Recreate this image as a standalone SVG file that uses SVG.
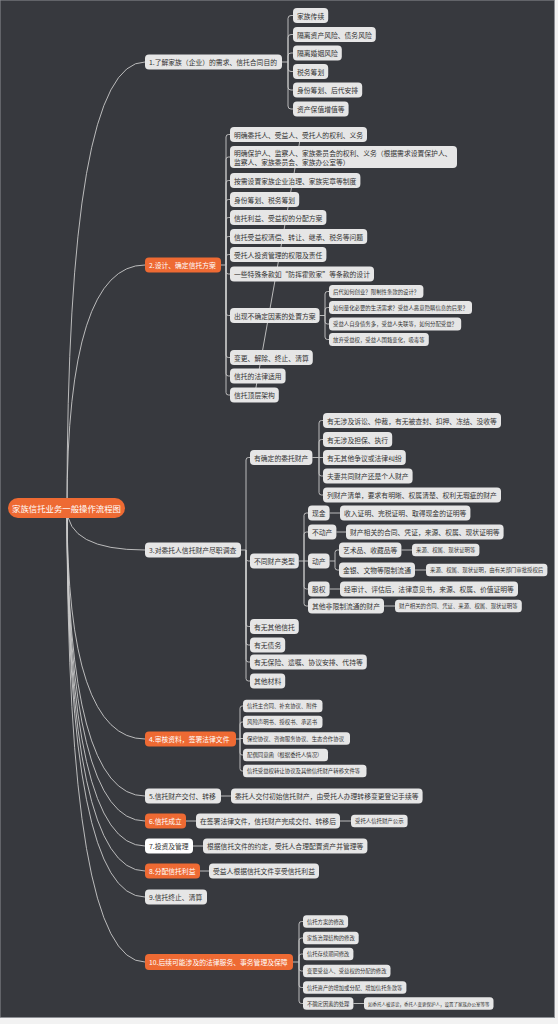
<svg xmlns="http://www.w3.org/2000/svg" width="558" height="1024" viewBox="0 0 558 1024">
<style>
text{font-family:"Noto Sans CJK SC","Noto Sans",sans-serif;dominant-baseline:central;fill:#333}
.g{fill:#e6e6e6}
.o{fill:#ee6a33}
.w{fill:#ffffff}
.tw{fill:#ffffff}
.f1{font-size:6.8px}
.f2{font-size:5.4px}
.f3{font-size:5.3px}
.c{fill:none;stroke:#c9c9c9;stroke-width:0.9}
</style>
<rect x="0" y="0" width="558" height="1024" fill="#f2f2f2"/>
<rect x="0" y="0" width="554.5" height="1017.5" fill="#37393e" stroke="#8d8f94" stroke-width="1"/>
<g id="connectors">
<path class="c" d="M67 508Q67 62 145 62M67 508Q67 265 145 265M67 508Q67 550 145 550M67 508Q67 739 145 739M67 508Q67 796 145 796M67 508Q67 821 145 821M67 508Q67 846 145 846M67 508Q67 871 145 871M67 508Q67 897 145 897M67 508Q67 962 145 962"/>
<path class="c" d="M282 62H288M288 62V18.5Q288 15.5 291 15.5H293M288 62V37.5Q288 34.5 291 34.5H293M288 62V56Q288 53 291 53H293M288 62V68.5Q288 71.5 291 71.5H293M288 62V87Q288 90 291 90H293M288 62V106Q288 109 291 109H293"/>
<path class="c" d="M221 265H226M226 265V137Q226 134.5 228.5 134.5H230M226 265V159.5Q226 157 228.5 157H230M226 265V183Q226 180.5 228.5 180.5H230M226 265V202Q226 199.5 228.5 199.5H230M226 265V220Q226 217.5 228.5 217.5H230M226 265V239Q226 236.5 228.5 236.5H230M226 265V257Q226 254.5 228.5 254.5H230M226 265V271.5Q226 274 228.5 274H230M226 265V313Q226 315.5 228.5 315.5H230M226 265V355Q226 357.5 228.5 357.5H230M226 265V373.5Q226 376 228.5 376H230M226 265V392.5Q226 395 228.5 395H230"/>
<path class="c" d="M300.5 137L255 393" stroke="#a9aaad"/>
<path class="c" d="M319.6 315.5H325M325 315.5V294Q325 291.5 327.5 291.5H329M325 315.5V310Q325 307.5 327.5 307.5H329M325 315.5V321.5Q325 324 327.5 324H329M325 315.5V337Q325 339.5 327.5 339.5H329"/>
<path class="c" d="M241 550H246M246 550V460Q246 457.5 248.5 457.5H250M246 550V558.5Q246 561 248.5 561H250M246 550V624Q246 626.5 248.5 626.5H250M246 550V642.5Q246 645 248.5 645H250M246 550V659.5Q246 662 248.5 662H250M246 550V678.5Q246 681 248.5 681H250"/>
<path class="c" d="M312.4 457.5H319M319 457.5V423Q319 420.5 321.5 420.5H323M319 457.5V442Q319 439.5 321.5 439.5H323M319 457.5H323M319 457.5V473.5Q319 476 321.5 476H323M319 457.5V492.5Q319 495 321.5 495H323"/>
<path class="c" d="M298.8 561H304M304 561V515.5Q304 513 306.5 513H308M304 561V534.5Q304 532 306.5 532H308M304 561H308M304 561V586.5Q304 589 306.5 589H308M304 561V603.5Q304 606 306.5 606H308"/>
<path class="c" d="M329.6 513H340M336.4 532H346M329.6 561H335M335 561V552.5Q335 550 337.5 550H339M335 561V567.5Q335 570 337.5 570H339M401.4 550H412M415 570H426M329.6 589H340M384 606H395"/>
<path class="c" d="M236 739H240M240 739V708.5Q240 706 242 706H243M240 739V724.5Q240 722 242 722H243M240 739V738.5H243M240 739V752.5Q240 755 242 755H243M240 739V768.5Q240 771 242 771H243"/>
<path class="c" d="M221 796H231M186 821H196M340 821H351M193 846H203M200 871H209"/>
<path class="c" d="M293 962H299M299 962V924Q299 921.5 301.5 921.5H303M299 962V940.5Q299 938 301.5 938H303M299 962V956.5Q299 954 301.5 954H303M299 962V968.5Q299 971 301.5 971H303M299 962V985Q299 987.5 301.5 987.5H303M299 962V1001Q299 1003.5 301.5 1003.5H303M353.4 1003.5H364"/>
</g>
<g id="root"><rect class="o" x="8" y="498" width="117" height="20" rx="10"/><text class="tw" x="66.5" y="508" text-anchor="middle" font-size="8.4">家族信托业务一般操作流程图</text></g>
<g id="n1"><rect class="g" x="145" y="54.5" width="137" height="15" rx="4"/><text class="f1" x="149" y="62">1.了解家族（企业）的需求、信托合同目的</text></g>
<g id="n1a"><rect class="g" x="293" y="8" width="35.2" height="15" rx="4"/><text class="f1" x="297" y="15.5">家族传续</text></g>
<g id="n1b"><rect class="g" x="293" y="27" width="82.8" height="15" rx="4"/><text class="f1" x="297" y="34.5">隔离资产风险、债务风险</text></g>
<g id="n1c"><rect class="g" x="293" y="45.5" width="48.8" height="15" rx="4"/><text class="f1" x="297" y="53">隔离婚姻风险</text></g>
<g id="n1d"><rect class="g" x="293" y="64" width="35.2" height="15" rx="4"/><text class="f1" x="297" y="71.5">税务筹划</text></g>
<g id="n1e"><rect class="g" x="293" y="82.5" width="69.2" height="15" rx="4"/><text class="f1" x="297" y="90">身份筹划、后代安排</text></g>
<g id="n1f"><rect class="g" x="293" y="101.5" width="55.6" height="15" rx="4"/><text class="f1" x="297" y="109">资产保值增值等</text></g>
<g id="n2"><rect class="o" x="145" y="257.5" width="76" height="15" rx="4"/><text class="f1 tw" x="149" y="265">2.设计、确定信托方案</text></g>
<g id="n2a"><rect class="g" x="230" y="127" width="137" height="15" rx="4"/><text class="f1" x="234" y="134.5">明确委托人、受益人、受托人的权利、义务</text></g>
<g id="n2b"><rect class="g" x="230" y="146" width="227" height="22" rx="4"/><text class="f1" x="234" y="152.5">明确保护人、监察人、家族委员会的权利、义务（根据需求设置保护人、</text><text class="f1" x="234" y="162">监察人、家族委员会、家族办公室等）</text></g>
<g id="n2c"><rect class="g" x="230" y="173" width="130.4" height="15" rx="4"/><text class="f1" x="234" y="180.5">按需设置家族企业治理、家族宪章等制度</text></g>
<g id="n2d"><rect class="g" x="230" y="192" width="69.2" height="15" rx="4"/><text class="f1" x="234" y="199.5">身份筹划、税务筹划</text></g>
<g id="n2e"><rect class="g" x="230" y="210" width="96.4" height="15" rx="4"/><text class="f1" x="234" y="217.5">信托利益、受益权的分配方案</text></g>
<g id="n2f"><rect class="g" x="230" y="229" width="137.2" height="15" rx="4"/><text class="f1" x="234" y="236.5">信托受益权清偿、转让、继承、税务等问题</text></g>
<g id="n2g"><rect class="g" x="230" y="247" width="96.4" height="15" rx="4"/><text class="f1" x="234" y="254.5">受托人投资管理的权限及责任</text></g>
<g id="n2h"><rect class="g" x="230" y="266.5" width="144" height="15" rx="4"/><text class="f1" x="234" y="274">一些特殊条款如“防挥霍败家”等条款的设计</text></g>
<g id="n2i"><rect class="g" x="230" y="308" width="89.6" height="15" rx="4"/><text class="f1" x="234" y="315.5">出现不确定因素的处置方案</text></g>
<g id="n2i1"><rect class="g" x="329" y="285" width="94.4" height="13" rx="3.5"/><text class="f2" x="333" y="291.5">后代如何创业？限制性条款的设计？</text></g>
<g id="n2i2"><rect class="g" x="329" y="301" width="143" height="13" rx="3.5"/><text class="f2" x="333" y="307.5">如何量化必要的生活需求？受益人恶意隐瞒信息的后果？</text></g>
<g id="n2i3"><rect class="g" x="329" y="317.5" width="132.2" height="13" rx="3.5"/><text class="f2" x="333" y="324">受益人自身债务多，受益人失联等，如何分配受益？</text></g>
<g id="n2i4"><rect class="g" x="329" y="333" width="99.8" height="13" rx="3.5"/><text class="f2" x="333" y="339.5">放弃受益权，受益人国籍变化，吸毒等</text></g>
<g id="n2j"><rect class="g" x="230" y="350" width="82.8" height="15" rx="4"/><text class="f1" x="234" y="357.5">变更、解除、终止、清算</text></g>
<g id="n2k"><rect class="g" x="230" y="368.5" width="55.6" height="15" rx="4"/><text class="f1" x="234" y="376">信托的法律适用</text></g>
<g id="n2l"><rect class="g" x="230" y="387.5" width="48.8" height="15" rx="4"/><text class="f1" x="234" y="395">信托顶层架构</text></g>
<g id="n3"><rect class="g" x="145" y="542.5" width="96" height="15" rx="4"/><text class="f1" x="149" y="550">3.对委托人信托财产尽职调查</text></g>
<g id="n3a"><rect class="g" x="250" y="450" width="62.4" height="15" rx="4"/><text class="f1" x="254" y="457.5">有确定的委托财产</text></g>
<g id="n3a1"><rect class="g" x="323" y="413" width="178" height="15" rx="4"/><text class="f1" x="327" y="420.5">有无涉及诉讼、仲裁，有无被查封、扣押、冻结、没收等</text></g>
<g id="n3a2"><rect class="g" x="323" y="432" width="69.2" height="15" rx="4"/><text class="f1" x="327" y="439.5">有无涉及担保、执行</text></g>
<g id="n3a3"><rect class="g" x="323" y="450" width="82.8" height="15" rx="4"/><text class="f1" x="327" y="457.5">有无其他争议或法律纠纷</text></g>
<g id="n3a4"><rect class="g" x="323" y="468.5" width="89.6" height="15" rx="4"/><text class="f1" x="327" y="476">夫妻共同财产还是个人财产</text></g>
<g id="n3a5"><rect class="g" x="323" y="487.5" width="178" height="15" rx="4"/><text class="f1" x="327" y="495">列财产清单，要求有明晰、权属清楚、权利无瑕疵的财产</text></g>
<g id="n3b"><rect class="g" x="250" y="553.5" width="48.8" height="15" rx="4"/><text class="f1" x="254" y="561">不同财产类型</text></g>
<g id="n3b1"><rect class="g" x="308" y="505.5" width="21.6" height="15" rx="4"/><text class="f1" x="312" y="513">现金</text></g>
<g id="n3b1a"><rect class="g" x="340" y="505.5" width="130.4" height="15" rx="4"/><text class="f1" x="344" y="513">收入证明、完税证明、取得现金的证明等</text></g>
<g id="n3b2"><rect class="g" x="308" y="524.5" width="28.4" height="15" rx="4"/><text class="f1" x="312" y="532">不动产</text></g>
<g id="n3b2a"><rect class="g" x="346" y="524.5" width="157.6" height="15" rx="4"/><text class="f1" x="350" y="532">财产相关的合同、凭证，来源、权属、现状证明等</text></g>
<g id="n3b3"><rect class="g" x="308" y="553.5" width="21.6" height="15" rx="4"/><text class="f1" x="312" y="561">动产</text></g>
<g id="n3b3a"><rect class="g" x="339" y="542.5" width="62.4" height="15" rx="4"/><text class="f1" x="343" y="550">艺术品、收藏品等</text></g>
<g id="n3b3a1"><rect class="g" x="412" y="543.75" width="67.4" height="12.5" rx="3.5"/><text class="f2" x="416" y="550">来源、权属、现状证明等</text></g>
<g id="n3b3b"><rect class="g" x="339" y="562.5" width="76" height="15" rx="4"/><text class="f1" x="343" y="570">金银、文物等限制流通</text></g>
<g id="n3b3b1"><rect class="g" x="426" y="563.75" width="121.4" height="12.5" rx="3.5"/><text class="f2" x="430" y="570">来源、权属、现状证明，由有关部门审批授权后</text></g>
<g id="n3b4"><rect class="g" x="308" y="581.5" width="21.6" height="15" rx="4"/><text class="f1" x="312" y="589">股权</text></g>
<g id="n3b4a"><rect class="g" x="340" y="581.5" width="178" height="15" rx="4"/><text class="f1" x="344" y="589">经审计、评估后，法律意见书，来源、权属、价值证明等</text></g>
<g id="n3b5"><rect class="g" x="308" y="598.5" width="76" height="15" rx="4"/><text class="f1" x="312" y="606">其他非限制流通的财产</text></g>
<g id="n3b5a"><rect class="g" x="395" y="599.75" width="126.8" height="12.5" rx="3.5"/><text class="f2" x="399" y="606">财产相关的合同、凭证、来源、权属、现状证明等</text></g>
<g id="n3c"><rect class="g" x="250" y="619" width="48.8" height="15" rx="4"/><text class="f1" x="254" y="626.5">有无其他信托</text></g>
<g id="n3d"><rect class="g" x="250" y="637.5" width="35.2" height="15" rx="4"/><text class="f1" x="254" y="645">有无债务</text></g>
<g id="n3e"><rect class="g" x="250" y="654.5" width="116.8" height="15" rx="4"/><text class="f1" x="254" y="662">有无保险、遗嘱、协议安排、代持等</text></g>
<g id="n3f"><rect class="g" x="250" y="673.5" width="35.2" height="15" rx="4"/><text class="f1" x="254" y="681">其他材料</text></g>
<g id="n4"><rect class="o" x="145" y="731.5" width="91" height="15" rx="4"/><text class="f1 tw" x="149" y="739">4.审核资料，签署法律文件</text></g>
<g id="n4a"><rect class="g" x="243" y="699.75" width="79.5" height="12.5" rx="3.5"/><text class="f2" x="247" y="706">信托主合同、补充协议、附件</text></g>
<g id="n4b"><rect class="g" x="243" y="715.75" width="79.5" height="12.5" rx="3.5"/><text class="f2" x="247" y="722">风险声明书、授权书、承诺书</text></g>
<g id="n4c"><rect class="g" x="243" y="732.25" width="107" height="12.5" rx="3.5"/><text class="f2" x="247" y="738.5">保密协议、咨询服务协议、生态合作协议</text></g>
<g id="n4d"><rect class="g" x="243" y="748.75" width="85" height="12.5" rx="3.5"/><text class="f2" x="247" y="755">配偶同意函（根据委托人情况）</text></g>
<g id="n4e"><rect class="g" x="243" y="764.75" width="123.5" height="12.5" rx="3.5"/><text class="f2" x="247" y="771">信托受益权转让协议及其他信托财产转移文件等</text></g>
<g id="n5"><rect class="g" x="145" y="788.5" width="76" height="15" rx="4"/><text class="f1" x="149" y="796">5.信托财产交付、转移</text></g>
<g id="n5a"><rect class="g" x="231" y="788.5" width="191.6" height="15" rx="4"/><text class="f1" x="235" y="796">委托人交付初始信托财产，由受托人办理转移变更登记手续等</text></g>
<g id="n6"><rect class="o" x="145" y="813.5" width="41" height="15" rx="4"/><text class="f1 tw" x="149" y="821">6.信托成立</text></g>
<g id="n6a"><rect class="g" x="196" y="813.5" width="144" height="15" rx="4"/><text class="f1" x="200" y="821">在签署法律文件，信托财产完成交付、转移后</text></g>
<g id="n6a1"><rect class="g" x="351" y="814.75" width="56.6" height="12.5" rx="3.5"/><text class="f2" x="355" y="821">受托人信托财产公示</text></g>
<g id="n7"><rect class="w" x="145" y="838.5" width="48" height="15" rx="4"/><text class="f1" x="149" y="846">7.投资及管理</text></g>
<g id="n7a"><rect class="g" x="203" y="838.5" width="164.4" height="15" rx="4"/><text class="f1" x="207" y="846">根据信托文件的约定，受托人合理配置资产并管理等</text></g>
<g id="n8"><rect class="o" x="145" y="863.5" width="55" height="15" rx="4"/><text class="f1 tw" x="149" y="871">8.分配信托利益</text></g>
<g id="n8a"><rect class="g" x="209" y="863.5" width="110" height="15" rx="4"/><text class="f1" x="213" y="871">受益人根据信托文件享受信托利益</text></g>
<g id="n9"><rect class="g" x="145" y="889.5" width="62" height="15" rx="4"/><text class="f1" x="149" y="897">9.信托终止、清算</text></g>
<g id="n10"><rect class="o" x="145" y="954" width="148" height="16" rx="4"/><text class="f1 tw" x="149" y="962">10.后续可能涉及的法律服务、事务管理及保障</text></g>
<g id="n10a"><rect class="g" x="303" y="915.25" width="45.1" height="12.5" rx="3.5"/><text class="f3" x="307" y="921.5">信托方案的修改</text></g>
<g id="n10b"><rect class="g" x="303" y="931.75" width="55.7" height="12.5" rx="3.5"/><text class="f3" x="307" y="938">家族治理结构的修改</text></g>
<g id="n10c"><rect class="g" x="303" y="947.75" width="50.4" height="12.5" rx="3.5"/><text class="f3" x="307" y="954">信托存续期间修改</text></g>
<g id="n10d"><rect class="g" x="303" y="964.75" width="87.5" height="12.5" rx="3.5"/><text class="f3" x="307" y="971">变更受益人、受益权的分配的修改</text></g>
<g id="n10e"><rect class="g" x="303" y="981.25" width="103.4" height="12.5" rx="3.5"/><text class="f3" x="307" y="987.5">信托资产的增加或分配、增加信托条款等</text></g>
<g id="n10f"><rect class="g" x="303" y="997.25" width="50.4" height="12.5" rx="3.5"/><text class="f3" x="307" y="1003.5">不确定因素的处理</text></g>
<g id="n10f1"><rect class="g" x="364" y="997.25" width="129.5" height="12.5" rx="3.5"/><text x="368" y="1003.5" font-size="4.5">如委托人被诉讼，委托人变更保护人，设置了家族办公室等等</text></g>
</svg>
